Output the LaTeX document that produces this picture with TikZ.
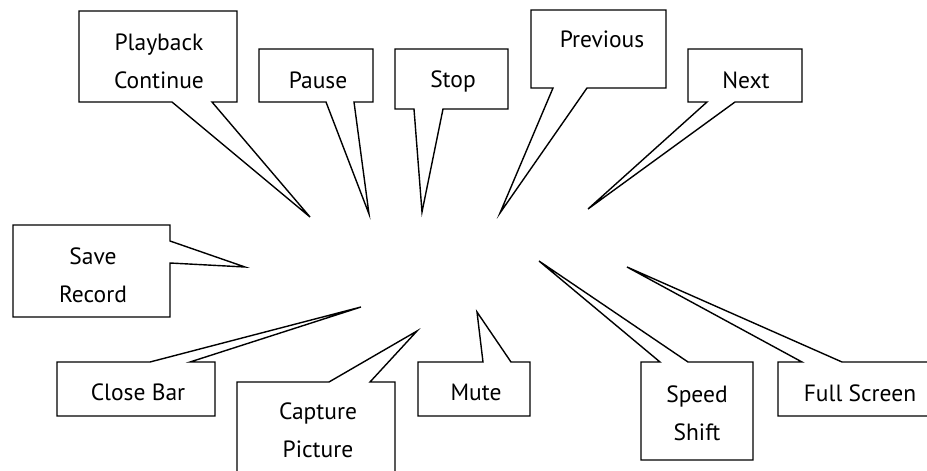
\documentclass[tikz,border=0pt]{standalone}
\usepackage{fontspec}
\setmainfont{PT Sans}
\tikzset{
  bubble/.style={draw, line width=1.4pt, line join=miter},
  tag/.style={font=\fontsize{23.5}{38}\selectfont, align=center, anchor=base, inner sep=0pt}
}
\begin{document}
\begin{tikzpicture}[x=1pt,y=-1pt]
\useasboundingbox (0,0) rectangle (927,471);
\clip (0,0) rectangle (927,471);
% tips of the callouts
\coordinate (playTip) at (310,217);
\coordinate (pauseTip) at (369,214);
\coordinate (stopTip) at (422,212);
\coordinate (prevTip) at (500,213);
\coordinate (nextTip) at (588,209);
\coordinate (saveTip) at (245,267);
\coordinate (closeTip) at (361,307);
\coordinate (captureTip) at (417,331);
\coordinate (muteTip) at (477,312);
\coordinate (speedTip) at (539,261);
\coordinate (fullTip) at (627,267);
% top row
\draw[bubble] (79,11) -- (237,11) -- (237,102) -- (212,102) -- (playTip) -- (172,102) -- (79,102) -- cycle;
\node[tag] (play) at (159,88) {Playback\\Continue};
\draw[bubble] (259,49) -- (373,49) -- (373,102) -- (354,102) -- (pauseTip) -- (326,102) -- (259,102) -- cycle;
\node[tag] (pause) at (318,88) {Pause};
\draw[bubble] (395,49) -- (508,49) -- (508,109) -- (443,109) -- (stopTip) -- (414,109) -- (395,109) -- cycle;
\node[tag] (stop) at (453,87) {Stop};
\draw[bubble] (531,10) -- (666,10) -- (666,88) -- (587,88) -- (prevTip) -- (553,88) -- (531,88) -- cycle;
\node[tag] (prev) at (602,47) {Previous};
\draw[bubble] (688,49) -- (802,49) -- (802,102) -- (735,102) -- (nextTip) -- (707,102) -- (688,102) -- cycle;
\node[tag] (next) at (746,88) {Next};
% left side
\draw[bubble] (13,225) -- (170,225) -- (170,241) -- (saveTip) -- (170,263) -- (170,317) -- (13,317) -- cycle;
\node[tag] (save) at (93,302) {Save\\Record};
% bottom row
\draw[bubble] (57,362) -- (150,362) -- (closeTip) -- (190,362) -- (215,362) -- (215,416) -- (57,416) -- cycle;
\node[tag] (close) at (138,400) {Close Bar};
\draw[bubble] (237,382) -- (329,382) -- (captureTip) -- (370,382) -- (395,382) -- (395,490) -- (237,490) -- cycle;
\node[tag] (capture) at (318,457) {Capture\\Picture};
\draw[bubble] (418,362) -- (483,362) -- (muteTip) -- (511,362) -- (530,362) -- (530,416) -- (418,416) -- cycle;
\node[tag] (mute) at (476,400) {Mute};
\draw[bubble] (641,362) -- (660,362) -- (speedTip) -- (688,362) -- (753,362) -- (753,460) -- (641,460) -- cycle;
\node[tag] (speed) at (697,440) {Speed\\Shift};
\draw[bubble] (778,362) -- (802,362) -- (fullTip) -- (842,362) -- (945,362) -- (945,416) -- (778,416) -- cycle;
\node[tag] (full) at (860,401) {Full Screen};
\end{tikzpicture}
\end{document}
